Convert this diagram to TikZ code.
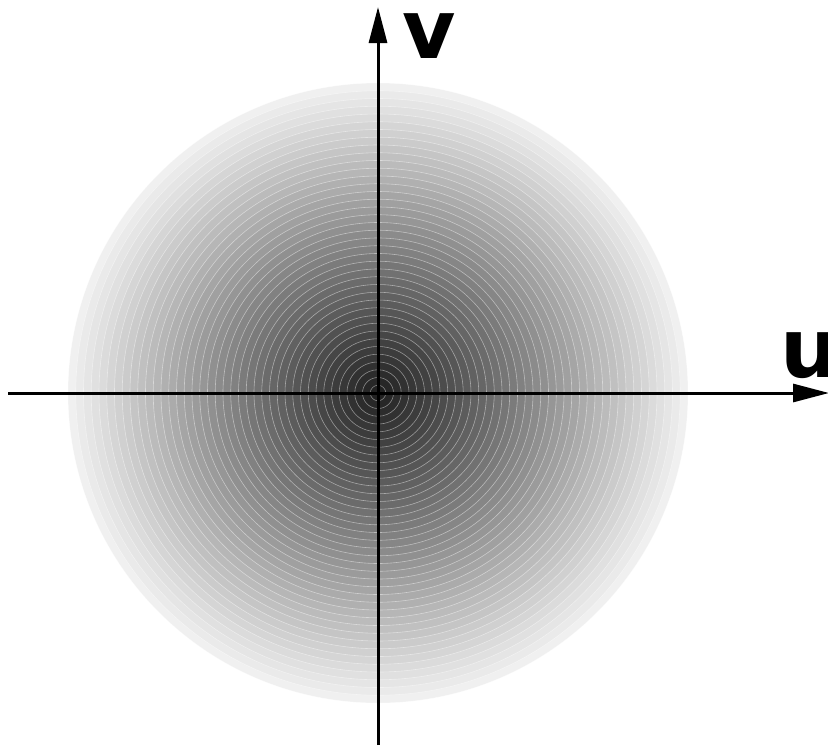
\documentclass[tikz,border=0pt]{standalone}
\usepackage{fontspec}
\setmainfont{DejaVu Sans}
\usetikzlibrary{arrows.meta}
\tikzset{
  axis/.style={line width=3pt,-{Triangle[length=36pt,width=18pt]}},
  axislabel/.style={font=\fontsize{82}{82}\selectfont\bfseries,inner sep=0pt,anchor=base},
  band/.style={draw=white,draw opacity=0.45,line width=0.6pt}
}
\begin{document}
\begin{tikzpicture}[x=1pt,y=-1pt]
\useasboundingbox (0,0) rectangle (828,745);
\coordinate (O) at (378,393);
\foreach \i in {40,39,...,1}{
  \pgfmathsetmacro{\p}{89-83*(\i/40)}
  \fill[black!\p,band] (O) circle ({310*\i/40});
}
\coordinate (xs) at (8,393);
\coordinate (xe) at (829,393);
\coordinate (ys) at (378,745);
\coordinate (ye) at (378,7);
\draw[axis] (xs) -- (xe);
\draw[axis] (ys) -- (ye);
\node[axislabel] (v) at (429,58) {v};
\node[axislabel] (u) at (810,377) {u};
\end{tikzpicture}
\end{document}
